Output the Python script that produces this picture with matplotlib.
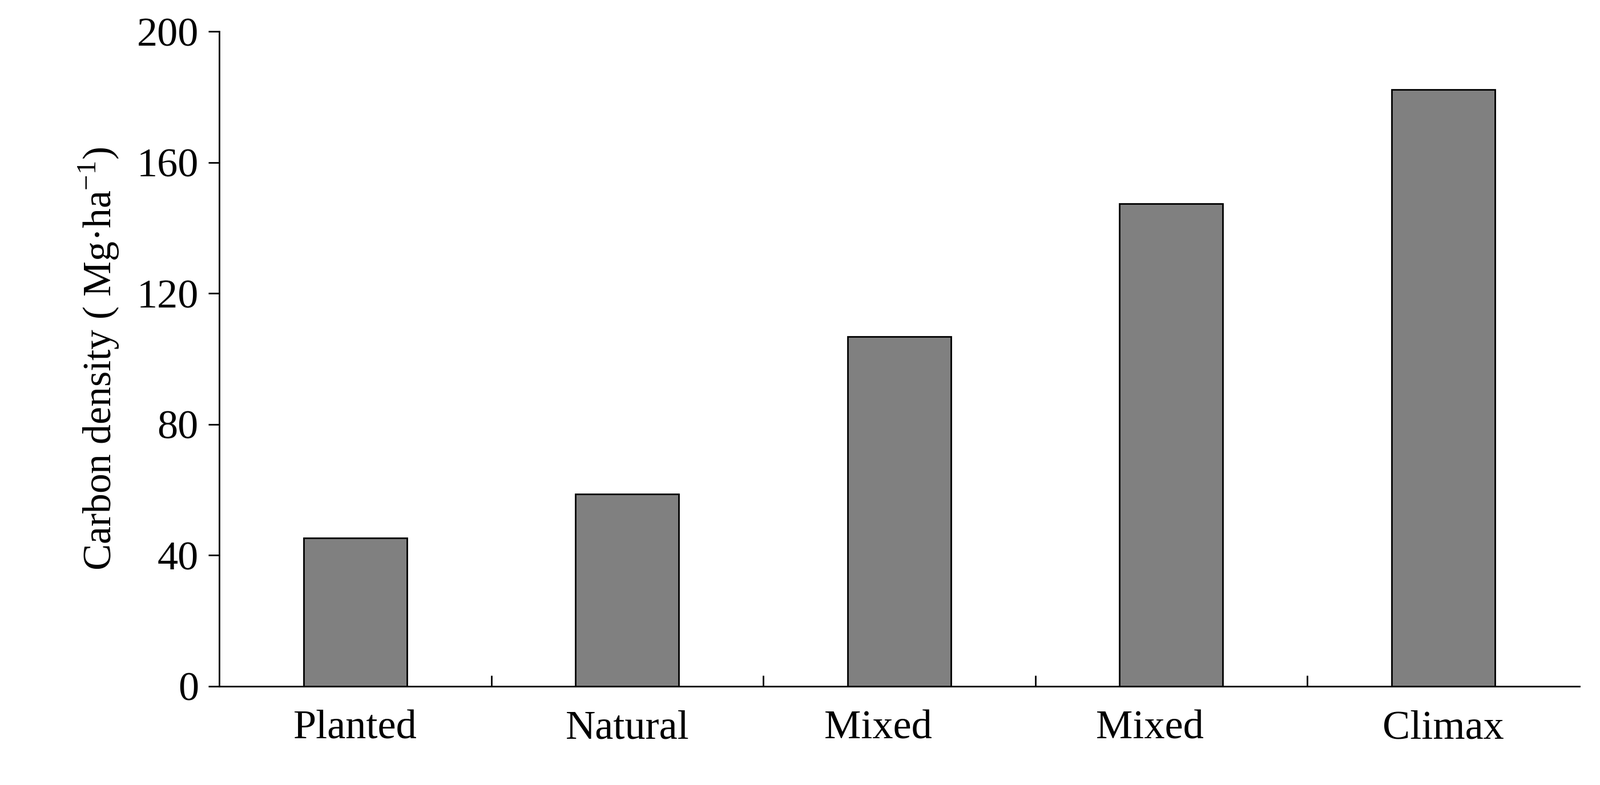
import matplotlib.pyplot as plt
import numpy as np

plt.rcParams["font.family"] = ["Liberation Serif", "Noto Sans CJK SC"]
plt.rcParams["mathtext.fontset"] = "custom"
plt.rcParams["mathtext.rm"] = "Liberation Serif"

categories = ["Planted", "Natural", "Mixed Ⅰ", "Mixed Ⅱ", "Climax"]
carbon_density = [45.2, 58.7, 106.7, 147.3, 182.2]
y_ticks = [0, 40, 80, 120, 160, 200]

fig = plt.figure(figsize=(28.03, 13.76), dpi=100)
ax = fig.add_axes([0.137, 0.126, 0.850, 0.834])

x = np.arange(len(categories))
ax.bar(x, carbon_density, width=0.38, color="#808080", edgecolor="black", linewidth=2)

ax.set_xlim(-0.5, len(categories) - 0.5)
ax.set_ylim(0, 200)
ax.set_yticks(y_ticks)
ax.set_xticks(x)
ax.set_xticklabels(categories)
ax.set_xticks(np.arange(0.5, len(categories) - 0.5), minor=True)
ax.tick_params(axis="x", which="major", length=0, labelsize=52, pad=30)
ax.tick_params(axis="x", which="minor", direction="in", length=14, width=2)
ax.tick_params(axis="y", direction="out", length=14, width=2, labelsize=52, pad=12)

for s in ["top", "right"]:
    ax.spines[s].set_visible(False)
for s in ["left", "bottom"]:
    ax.spines[s].set_linewidth(2)

ax.set_ylabel("Carbon density ( Mg·ha$^{-1}$)", fontsize=50, labelpad=20)

fig.savefig("out.png", dpi=100)
